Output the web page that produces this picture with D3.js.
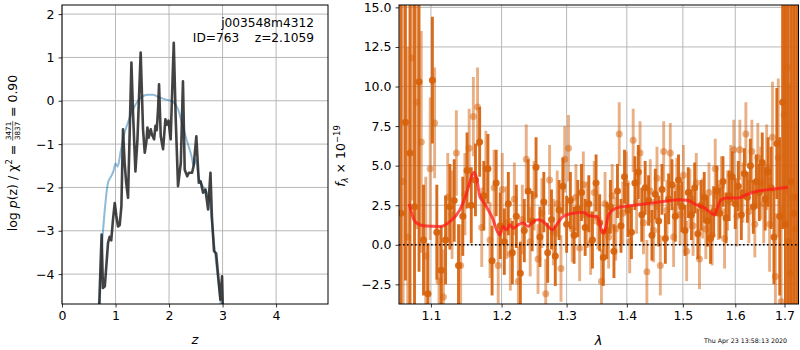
<!DOCTYPE html>
<html>
<head>
<meta charset="utf-8">
<script src="https://cdn.jsdelivr.net/npm/d3@7"></script>
<style>
  body { margin: 0; background: #fff; }
  text { font-family: "DejaVu Sans", sans-serif; }
</style>
</head>
<body>
<svg id="fig" width="800" height="350"></svg>
<script>
// ---- left panel: log p(z) ----
const zPdf = [0.66, 0.74, 0.765, 0.80, 0.86, 0.89, 0.92, 0.953, 0.985, 1.016, 1.047, 1.078, 1.11, 1.14, 1.17, 1.2, 1.234,
  1.297, 1.327, 1.372, 1.41, 1.47, 1.514, 1.546, 1.578, 1.596, 1.62, 1.658, 1.68, 1.72, 1.746, 1.77, 1.795, 1.813,
  1.845, 1.888, 1.932, 1.96, 1.99, 2.03, 2.088, 2.125, 2.168, 2.22, 2.26, 2.293, 2.34, 2.37, 2.43, 2.46, 2.51,
  2.556, 2.59, 2.636, 2.68, 2.73, 2.774, 2.80, 2.84, 2.88, 2.93, 2.96, 2.99, 3.03];
const logPdf = [-6, -3.09, -4.32, -4.28, -3.28, -3.14, -3.22, -2.74, -2.36, -2.66, -2.9, -2.87, -2.43, -0.66, -1.43, -1.9, -2.24,
  0.88, -0.28, -1.63, -0.89, 1.11, -0.66, -1.2, -0.93, -0.62, -0.85, -0.66, -0.78, -0.89, -0.58, -0.68, -0.2, 0.38,
  -0.82, -1.12, -0.43, -0.55, -0.46, -0.89, 1.34, -0.43, -1.97, -1.43, 0.45, -1.59, -1.74, -1.66, -1.66, -1.5, -0.82,
  -1.89, -1.86, -2.12, -2.05, -2.51, -1.66, -2.66, -3.47, -3.52, -4.2, -4.59, -4.05, -6];

const zPrior = [0.68, 0.705, 0.748, 0.80, 0.86, 0.92, 0.96, 1.0, 1.04, 1.097, 1.17, 1.23, 1.327, 1.42, 1.514, 1.61, 1.70,
  1.795, 1.89, 1.995, 2.04, 2.07, 2.17, 2.24, 2.325, 2.42, 2.46, 2.5, 2.56, 2.62, 2.7, 2.76, 2.8, 2.85, 2.9, 2.95, 2.99];
const logPrior = [-5.2, -4.67, -3.36, -2.51, -1.89, -1.74, -1.63, -1.45, -1.52, -1.16, -0.74, -0.51, -0.2, 0.0, 0.11, 0.14, 0.14,
  0.09, 0.05, 0.01, 0.0, -0.02, -0.2, -0.51, -0.89, -1.28, -1.5, -1.35, -1.8, -1.95, -2.1, -2.3, -2.8, -3.4, -3.95, -4.5, -5.0];

const zTicks = [0, 1, 2, 3, 4];
const pTicks = [-4, -3, -2, -1, 0, 1, 2];

// ---- right panel: spectrum ----
const lamDark = [1.060, 1.066, 1.072, 1.078, 1.084, 1.090, 1.096, 1.102, 1.108, 1.114,
  1.120, 1.126, 1.132, 1.138, 1.144, 1.150, 1.156, 1.162, 1.168, 1.174,
  1.180, 1.186, 1.192, 1.198, 1.204, 1.210, 1.216, 1.222, 1.228, 1.234,
  1.240, 1.246, 1.252, 1.258, 1.264, 1.270, 1.276, 1.282, 1.288, 1.294,
  1.300, 1.306, 1.312, 1.318, 1.324, 1.330, 1.336, 1.342, 1.348, 1.354,
  1.360, 1.366, 1.372, 1.378, 1.384, 1.390, 1.396, 1.402, 1.408, 1.414,
  1.420, 1.426, 1.432, 1.438, 1.444, 1.450, 1.456, 1.462, 1.468, 1.474,
  1.480, 1.486, 1.492, 1.498, 1.504, 1.510, 1.516, 1.522, 1.528, 1.534,
  1.540, 1.546, 1.552, 1.558, 1.564, 1.570, 1.576, 1.582, 1.588, 1.594,
  1.600, 1.606, 1.612, 1.618, 1.624, 1.630, 1.636, 1.642, 1.648, 1.654,
  1.660, 1.666, 1.672, 1.678, 1.684, 1.690, 1.696, 1.702, 1.708, 1.714,
  1.720, 1.726];
const fluxDark = [2.0, 7.75, 5.8, 2.4, 10.3, 0.3, -3.1, 10.4, 0.8, -1.6,
  0.3, 2.4, 2.8, -1.3, 1.8, 4.7, 2.5, 4.1, 6.5, 3.1,
  4.8, -1.0, 3.9, 1.2, 0.2, 2.6, -0.5, 1.8, -1.8, 0.9,
  3.4, 1.5, 4.9, 0.5, 2.7, -0.5, 1.6, -0.7, 2.2, 3.7,
  1.3, 2.8, 0.6, 2.3, 3.3, 1.1, 2.6, 0.3, 3.9, 1.4,
  -0.8, 0.9, 2.4, -0.4, 3.4, 1.2, 4.3, 2.2, 0.8, 3.9,
  4.6, 1.9, 3.6, 2.8, 0.6, 3.2, 1.5, 3.5, 0.4, 2.9,
  3.8, 1.8, 4.1, 2.4, 0.9, 3.3, 1.9, 3.6, 0.7, 2.5,
  3.0, 1.5, 0.4, 2.1, 3.4, 2.0, 4.0, 1.7, 3.1, 4.3,
  2.6, 3.7, 1.9, 4.5, 3.0, 5.0, 2.4, 4.0, 3.3, 5.2,
  2.9, 4.6, 3.6, 0.5, 6.4, 1.8, 9.0, 1.3, 0.2, 4.0,
  2.0, 3.0];
const errDark = [16, 10, 11, 13, 12, 3.5, 3.2, 4.0, 3.0, 2.8,
  2.8, 2.7, 2.6, 2.6, 2.5, 2.4, 2.4, 2.3, 2.2, 2.2,
  2.2, 2.2, 2.1, 2.1, 2.1, 2.0, 2.0, 2.0, 2.0, 2.0,
  2.0, 1.9, 1.9, 1.9, 1.9, 1.9, 1.9, 1.9, 1.9, 1.8,
  1.8, 1.8, 1.8, 1.8, 1.8, 1.8, 1.8, 1.8, 1.8, 1.8,
  1.8, 1.8, 1.7, 1.7, 1.7, 1.7, 1.7, 1.7, 1.7, 1.7,
  1.7, 1.7, 1.7, 1.6, 1.6, 1.6, 1.6, 1.6, 1.6, 1.6,
  1.6, 1.6, 1.6, 1.6, 1.6, 1.6, 1.6, 1.6, 1.6, 1.6,
  1.6, 1.6, 1.6, 1.6, 1.6, 1.6, 1.6, 1.6, 1.6, 1.6,
  1.6, 1.6, 1.6, 1.6, 1.6, 1.7, 1.7, 1.7, 1.8, 1.9,
  2.0, 2.2, 2.6, 3.0, 3.5, 5.0, 8.0, 14, 16, 18,
  20, 20];

const lamLight = [1.063, 1.069, 1.075, 1.081, 1.087, 1.093, 1.099, 1.105, 1.111, 1.117,
  1.123, 1.129, 1.135, 1.141, 1.147, 1.153, 1.159, 1.165, 1.171, 1.177,
  1.183, 1.189, 1.195, 1.201, 1.207, 1.213, 1.219, 1.225, 1.231, 1.237,
  1.243, 1.249, 1.255, 1.261, 1.267, 1.273, 1.279, 1.285, 1.291, 1.297,
  1.303, 1.309, 1.315, 1.321, 1.327, 1.333, 1.339, 1.345, 1.351, 1.357,
  1.363, 1.369, 1.375, 1.381, 1.387, 1.393, 1.399, 1.405, 1.411, 1.417,
  1.423, 1.429, 1.435, 1.441, 1.447, 1.453, 1.459, 1.465, 1.471, 1.477,
  1.483, 1.489, 1.495, 1.501, 1.507, 1.513, 1.519, 1.525, 1.531, 1.537,
  1.543, 1.549, 1.555, 1.561, 1.567, 1.573, 1.579, 1.585, 1.591, 1.597,
  1.603, 1.609, 1.615, 1.621, 1.627, 1.633, 1.639, 1.645, 1.651, 1.657,
  1.663, 1.669, 1.675, 1.681, 1.687, 1.693, 1.699, 1.705, 1.711, 1.717,
  1.723];
const fluxLight = [4.0, 0.5, 11.8, 9.0, 6.5, -0.7, 4.8, 7.7, -2.3, -3.3,
  3.0, 1.9, 5.8, -1.3, 3.2, 6.1, 8.1, 8.7, 1.1, 4.8,
  0.3, 3.6, -1.3, 3.5, 1.4, -0.6, 2.9, -2.3, 1.6, 5.4,
  0.2, 3.1, -0.9, 2.0, -3.1, 4.1, 0.8, 2.6, -1.5, 5.4,
  6.1, 1.0, 3.0, -0.2, 3.8, 1.9, 0.1, 3.3, 1.7, -2.3,
  2.6, 0.5, 3.1, 1.0, 7.0, 2.0, 3.9, 0.2, 6.6, 2.7,
  5.8, 1.4, -1.7, 3.4, 0.9, 4.2, -1.3, 5.9, 2.2, 5.8,
  0.5, 3.6, 1.9, 4.4, -0.4, 2.9, 1.2, 3.9, -0.9, 2.3,
  1.0, 3.3, 0.6, 4.8, 2.2, 3.7, 0.4, 2.8, 4.4, 6.0,
  1.8, 6.0, 3.3, 7.0, 2.1, 5.9, 1.3, 5.5, 3.9, 2.6,
  4.9, 1.3, 6.8, -2.0, 5.5, -3.6, 8.2, 11.2, -1.8, 3.0,
  1.0];
const errLight = [16, 12, 9, 8, 7, 5, 4.5, 3.5, 3.2, 3.0,
  2.8, 2.8, 2.7, 2.6, 2.6, 2.5, 2.5, 2.5, 2.5, 2.4,
  2.4, 2.4, 2.4, 2.3, 2.3, 2.3, 2.3, 2.2, 2.2, 2.2,
  2.2, 2.2, 2.2, 2.2, 2.2, 2.2, 2.1, 2.1, 2.1, 2.1,
  2.1, 2.1, 2.1, 2.1, 2.1, 2.1, 2.0, 2.0, 2.0, 2.0,
  2.0, 2.0, 2.0, 2.0, 2.0, 2.0, 2.0, 2.0, 2.0, 2.0,
  2.0, 2.0, 2.0, 2.0, 2.0, 2.0, 1.9, 1.9, 1.9, 1.9,
  1.9, 1.9, 1.9, 1.9, 1.9, 1.9, 1.9, 1.9, 1.9, 1.9,
  1.9, 1.9, 1.9, 1.9, 1.9, 1.9, 1.9, 1.9, 1.9, 1.9,
  1.9, 1.9, 1.9, 2.0, 2.0, 2.0, 2.1, 2.2, 2.3, 2.5,
  2.7, 3.0, 3.5, 4, 5, 6, 7, 8, 12, 16,
  18];

// best-fit model
const lamModel = [1.071, 1.0786, 1.0896, 1.1122, 1.126, 1.1399, 1.1494, 1.1565, 1.1602, 1.1636, 1.1683, 1.1731,
  1.1803, 1.1876, 1.1926, 1.1974, 1.2023, 1.2073, 1.2122, 1.2172, 1.2247, 1.2322, 1.2398, 1.2475, 1.2552,
  1.2629, 1.2707, 1.2776, 1.2839, 1.2943, 1.3104, 1.3266, 1.3375, 1.3486, 1.3541, 1.3586, 1.3624, 1.368,
  1.3764, 1.3878, 1.405, 1.4341, 1.4637, 1.4941, 1.5094, 1.5251, 1.5407, 1.5535, 1.5598, 1.5636, 1.5727,
  1.5824, 1.6051, 1.6218, 1.6419, 1.6622, 1.6896, 1.7069];
const fluxModel = [2.59, 1.47, 1.2, 1.16, 1.47, 2.21, 3.26, 4.31, 4.59, 4.21, 3.05, 2.73,
  2.21, 1.58, 0.95, 0.63, 1.16, 0.95, 1.26, 1.05, 1.26, 1.37, 1.16, 1.47, 1.58,
  1.47, 1.16, 0.95, 1.26, 1.79, 2.0, 2.04, 1.83, 1.79, 1.37, 0.74, 0.84, 1.79,
  2.21, 2.38, 2.46, 2.59, 2.73, 2.84, 2.8, 2.53, 2.32, 2.0, 1.89, 2.2, 2.84,
  2.95, 2.95, 3.16, 3.37, 3.47, 3.58, 3.64];

const lamTicks = [1.1, 1.2, 1.3, 1.4, 1.5, 1.6, 1.7];
const fluxTicks = [-2.5, 0, 2.5, 5, 7.5, 10, 12.5, 15];

const svg = d3.select("#fig");
const orange = "#d6620c";
const gridColor = "#b0b0b0";

// panel boxes
const L = { x0: 62, x1: 328, y0: 5, y1: 304 };
const R = { x0: 399, x1: 798.5, y0: 5, y1: 304 };

const xL = d3.scaleLinear().domain([0, 4.97]).range([L.x0, L.x1]);
const yL = d3.scaleLinear().domain([-4.69, 2.21]).range([L.y1, L.y0]);
const xR = d3.scaleLog().domain([1.0576, 1.7295]).range([R.x0, R.x1]);
const yR = d3.scaleLinear().domain([-3.74, 15.15]).range([R.y1, R.y0]);

const defs = svg.append("defs");
defs.append("clipPath").attr("id", "clipL").append("rect")
  .attr("x", L.x0).attr("y", L.y0).attr("width", L.x1 - L.x0).attr("height", L.y1 - L.y0);
defs.append("clipPath").attr("id", "clipR").append("rect")
  .attr("x", R.x0).attr("y", R.y0).attr("width", R.x1 - R.x0).attr("height", R.y1 - R.y0);

function grid(box, xs, ys, xTicks, yTicks) {
  const g = svg.append("g");
  g.selectAll(null).data(xTicks).join("line")
    .attr("x1", d => xs(d)).attr("x2", d => xs(d))
    .attr("y1", box.y0).attr("y2", box.y1)
    .attr("stroke", gridColor).attr("stroke-width", 0.9);
  g.selectAll(null).data(yTicks).join("line")
    .attr("y1", d => ys(d)).attr("y2", d => ys(d))
    .attr("x1", box.x0).attr("x2", box.x1)
    .attr("stroke", gridColor).attr("stroke-width", 0.9);
}

function styleAxis(g) {
  g.attr("font-family", "DejaVu Sans").attr("font-size", 12.5);
  g.select(".domain").remove();
  g.selectAll(".tick line").attr("stroke", "#000").attr("stroke-width", 0.8);
  g.selectAll(".tick text").attr("fill", "#000");
}

grid(L, xL, yL, zTicks, pTicks);
grid(R, xR, yR, lamTicks, fluxTicks);

// ---- left panel curves ----
const gL = svg.append("g").attr("clip-path", "url(#clipL)");
gL.append("path")
  .datum(zPrior.map((z, i) => [z, logPrior[i]]))
  .attr("d", d3.line().x(d => xL(d[0])).y(d => yL(d[1])).curve(d3.curveMonotoneX))
  .attr("fill", "none").attr("stroke", "#1f77b4").attr("stroke-opacity", 0.5).attr("stroke-width", 2);
gL.append("path")
  .datum(zPdf.map((z, i) => [z, logPdf[i]]))
  .attr("d", d3.line().x(d => xL(d[0])).y(d => yL(d[1])))
  .attr("fill", "none").attr("stroke", "#222").attr("stroke-opacity", 0.85)
  .attr("stroke-width", 2.6).attr("stroke-linejoin", "round");

// ---- right panel spectra ----
const gR = svg.append("g").attr("clip-path", "url(#clipR)");

function drawSpec(lam, flux, err, alpha) {
  const pts = lam.map((l, i) => ({ l: l, f: flux[i], e: err[i] }));
  const g = gR.append("g");
  g.selectAll(null).data(pts).join("line")
    .attr("x1", d => xR(d.l)).attr("x2", d => xR(d.l))
    .attr("y1", d => yR(d.f - d.e)).attr("y2", d => yR(d.f + d.e))
    .attr("stroke", orange).attr("stroke-opacity", alpha).attr("stroke-width", 2.9);
  g.selectAll(null).data(pts).join("circle")
    .attr("cx", d => xR(d.l)).attr("cy", d => yR(d.f)).attr("r", 3.5)
    .attr("fill", orange).attr("fill-opacity", alpha);
}
drawSpec(lamLight, fluxLight, errLight, 0.5);
drawSpec(lamDark, fluxDark, errDark, 0.93);

gR.append("path")
  .datum(lamModel.map((l, i) => [l, fluxModel[i]]))
  .attr("d", d3.line().x(d => xR(d[0])).y(d => yR(d[1])).curve(d3.curveMonotoneX))
  .attr("fill", "none").attr("stroke", "#ff1a1a").attr("stroke-opacity", 0.75)
  .attr("stroke-width", 3).attr("stroke-linejoin", "round");

svg.append("line")
  .attr("x1", R.x0).attr("x2", R.x1).attr("y1", yR(0)).attr("y2", yR(0))
  .attr("stroke", "#000").attr("stroke-width", 1.6).attr("stroke-dasharray", "1.6,2.4");

// ---- axes ----
styleAxis(svg.append("g").attr("transform", `translate(0,${L.y1})`)
  .call(d3.axisBottom(xL).tickValues(zTicks).tickSize(3.5).tickPadding(4).tickFormat(d3.format("d"))));
styleAxis(svg.append("g").attr("transform", `translate(${L.x0},0)`)
  .call(d3.axisLeft(yL).tickValues(pTicks).tickSize(3.5).tickPadding(4).tickFormat(d3.format("d"))));
styleAxis(svg.append("g").attr("transform", `translate(0,${R.y1})`)
  .call(d3.axisBottom(xR).tickValues(lamTicks).tickSize(3.5).tickPadding(4).tickFormat(d3.format(".1f"))));
styleAxis(svg.append("g").attr("transform", `translate(${R.x0},0)`)
  .call(d3.axisLeft(yR).tickValues(fluxTicks).tickSize(3.5).tickPadding(4).tickFormat(d3.format(".1f"))));

[L, R].forEach(b => {
  svg.append("rect").attr("x", b.x0).attr("y", b.y0)
    .attr("width", b.x1 - b.x0).attr("height", b.y1 - b.y0)
    .attr("fill", "none").attr("stroke", "#000").attr("stroke-width", 1);
});

// ---- texts ----
svg.append("text").attr("x", 314).attr("y", 27).attr("text-anchor", "end")
  .attr("font-size", 12.2).text("j003548m4312");
svg.append("text").attr("x", 314).attr("y", 41.5).attr("text-anchor", "end")
  .attr("font-size", 12.2).style("white-space", "pre").text("ID=763    z=2.1059");

svg.append("text").attr("x", 195).attr("y", 344).attr("text-anchor", "middle")
  .attr("font-size", 13).attr("font-style", "italic").text("z");
svg.append("text").attr("x", 598.5).attr("y", 344.5).attr("text-anchor", "middle")
  .attr("font-size", 13).attr("font-style", "italic").text("λ");

svg.append("text").attr("x", 787).attr("y", 343).attr("text-anchor", "end")
  .attr("font-size", 6.3).text("Thu Apr 23 13:58:13 2020");

// left y label with stacked fraction
const labOuter = svg.append("g").attr("transform", "translate(16.5,153) rotate(-90)");
const lab = labOuter.append("g");
const t1 = lab.append("text").attr("font-size", 12.5);
t1.append("tspan").text("log ");
t1.append("tspan").attr("font-style", "italic").text("p");
t1.append("tspan").text("(z) / χ");
t1.append("tspan").attr("font-size", 8.5).attr("dy", -5).text("2");
t1.append("tspan").attr("dy", 5).style("white-space", "pre").text(" = ");
const w1 = t1.node().getComputedTextLength();
const num = lab.append("text").attr("font-size", 7.2).attr("text-anchor", "middle").attr("y", -5.5).text("3471");
const wf = num.node().getComputedTextLength() + 1.5;
num.attr("x", w1 + wf / 2);
lab.append("text").attr("font-size", 7.2).attr("text-anchor", "middle")
  .attr("x", w1 + wf / 2).attr("y", 3.5).text("3837");
lab.append("line").attr("x1", w1).attr("x2", w1 + wf).attr("y1", -3.8).attr("y2", -3.8)
  .attr("stroke", "#000").attr("stroke-width", 0.6);
const t2 = lab.append("text").attr("font-size", 12.5).attr("x", w1 + wf)
  .style("white-space", "pre").text(" = 0.90");
const total = w1 + wf + t2.node().getComputedTextLength();
lab.attr("transform", `translate(${-total / 2},0)`);

// right y label
const rl = svg.append("text").attr("transform", "translate(344.5,156) rotate(-90)")
  .attr("text-anchor", "middle").attr("font-size", 12.5);
rl.append("tspan").attr("font-style", "italic").text("f");
rl.append("tspan").attr("font-size", 8.5).attr("dy", 3).attr("font-style", "italic").text("λ");
rl.append("tspan").attr("dy", -3).style("white-space", "pre").text(" × 10");
rl.append("tspan").attr("font-size", 8.5).attr("dy", -5).text("−19");
</script>
</body>
</html>
